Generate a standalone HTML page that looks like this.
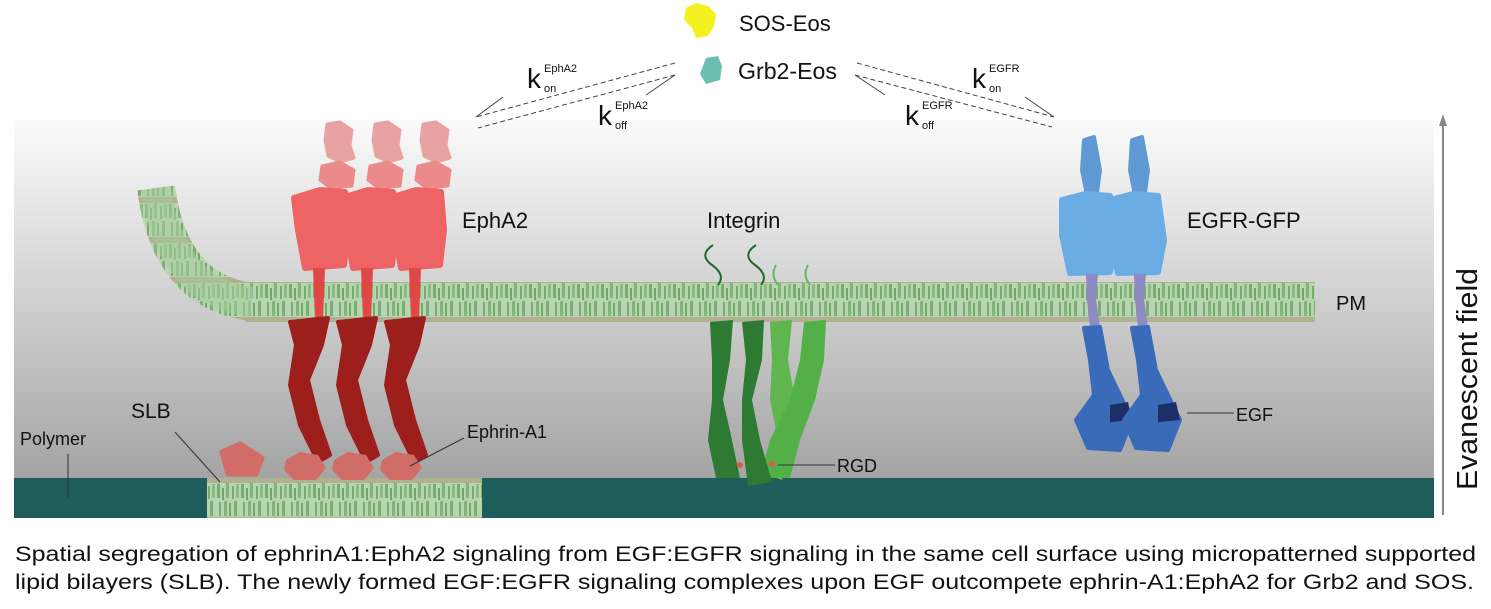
<!DOCTYPE html>
<html><head><meta charset="utf-8"><style>
html,body{margin:0;padding:0;background:#fff;}
svg{display:block;}
text{font-family:"Liberation Sans",sans-serif;fill:#111;}
</style></head><body>
<svg width="1491" height="609" viewBox="0 0 1491 609" xmlns="http://www.w3.org/2000/svg">
<defs>
<linearGradient id="bg" x1="0" y1="0" x2="0" y2="1">
<stop offset="0" stop-color="#fbfbfb"/><stop offset="0.45" stop-color="#d0d0d0"/><stop offset="1" stop-color="#9a9a9a"/>
</linearGradient>
<pattern id="mem" width="24" height="40" patternUnits="userSpaceOnUse">
<rect width="24" height="40" fill="#b9d4b2"/>
<rect x="1" y="4" width="3" height="14" fill="#5e9e55" opacity="0.7"/>
<rect x="6" y="8" width="2" height="12" fill="#3f8a3a" opacity="0.6"/>
<rect x="10" y="3" width="3" height="15" fill="#6aa960" opacity="0.7"/>
<rect x="16" y="6" width="2" height="13" fill="#4c9044" opacity="0.6"/>
<rect x="20" y="4" width="3" height="14" fill="#78b26e" opacity="0.7"/>
<rect x="3" y="22" width="2" height="14" fill="#4c9044" opacity="0.6"/>
<rect x="8" y="21" width="3" height="15" fill="#6aa960" opacity="0.7"/>
<rect x="13" y="23" width="2" height="13" fill="#3f8a3a" opacity="0.6"/>
<rect x="18" y="21" width="3" height="15" fill="#5e9e55" opacity="0.7"/>
<rect x="0" y="0" width="24" height="3" fill="#a89878" opacity="0.6"/>
<rect x="0" y="37" width="24" height="3" fill="#a89878" opacity="0.6"/>
</pattern>
</defs>
<rect x="14" y="120" width="1420" height="398" fill="url(#bg)"/>
<rect x="14" y="478" width="1420" height="40" fill="#1f5c5c"/>
<!-- SLB -->
<rect x="207" y="478" width="275" height="40" fill="url(#mem)"/>
<!-- PM -->
<rect x="245" y="282" width="1070" height="40" fill="url(#mem)"/>
<path d="M156 188 Q170 292 252 302" fill="none" stroke="url(#mem)" stroke-width="38"/>
<path d="M156 188 Q170 292 252 302" fill="none" stroke="#a8cc9f" stroke-width="30" opacity="0.55"/>

<!-- EphA2 x3 -->
<g stroke-linejoin="round">
<g id="eph">
<path d="M327 124 L340 122 L352 130 L350 145 L354 158 L340 162 L328 156 L325 140 Z" fill="#e8a2a2" stroke="#e8a2a2" stroke-width="3"/>
<path d="M322 166 L340 162 L354 170 L352 186 L330 188 L320 180 Z" fill="#ea8a8a" stroke="#ea8a8a" stroke-width="3"/>
<path d="M294 198 L320 190 L345 192 L348 230 L344 265 L305 268 L298 230 Z" fill="#ee6464" stroke="#ee6464" stroke-width="6"/>
<path d="M313 268 L325 268 L323 320 L315 320 Z" fill="#e04848"/>
<path d="M290 322 L328 318 L322 345 L308 380 L318 420 L330 455 L318 462 L300 425 L290 385 L296 345 Z" fill="#9c1f1c" stroke="#9c1f1c" stroke-width="4"/>
<path d="M286 460 L300 452 L318 455 L326 468 L316 480 L294 480 L284 470 Z" fill="#d16c66"/>
</g>
<use href="#eph" x="48"/>
<use href="#eph" x="96"/>
<path d="M222 452 L240 444 L262 458 L256 474 L228 474 Z" fill="#d16c66" stroke="#d16c66" stroke-width="5"/>
</g>

<!-- Integrin -->
<g fill="none" stroke-width="2">
<path d="M713 245 Q698 255 712 265 Q726 275 718 285" stroke="#1e6a2a"/>
<path d="M756 245 Q741 255 755 265 Q769 275 761 285" stroke="#1e6a2a"/>
<path d="M776 265 Q770 275 778 285" stroke="#5cc05a"/>
<path d="M808 265 Q802 275 810 285" stroke="#5cc05a"/>
</g>
<path d="M770 322 L792 320 L788 360 L795 400 L790 440 L782 480 L770 476 L778 440 L770 400 L772 360 Z" fill="#5fb64e"/>
<path d="M804 322 L826 320 L824 360 L815 400 L800 440 L790 478 L760 478 L770 440 L790 400 L800 360 Z" fill="#53b048"/>
<path d="M710 322 L733 320 L730 360 L723 400 L732 440 L740 478 L716 478 L708 440 L712 400 L712 360 Z" fill="#2d7a33"/>
<path d="M742 322 L764 320 L762 360 L752 400 L760 440 L772 482 L748 486 L742 440 L742 400 L746 360 Z" fill="#2d7a33"/>
<circle cx="740" cy="465" r="3" fill="#e05a44"/>
<circle cx="772" cy="464" r="3" fill="#e05a44"/>

<!-- EGFR -->
<g id="egfr" stroke-linejoin="round">
<path d="M1084 140 L1094 137 L1100 170 L1096 200 L1088 200 L1082 170 Z" fill="#5f9ad4" stroke="#5f9ad4" stroke-width="4"/>
<path d="M1062 200 L1085 194 L1110 196 L1116 240 L1110 272 L1070 273 L1062 235 Z" fill="#6aade4" stroke="#6aade4" stroke-width="6"/>
<path d="M1086 274 L1098 274 L1096 300 L1100 326 L1090 327 L1087 300 Z" fill="#8e8ac4"/>
<path d="M1084 328 L1100 327 L1108 370 L1120 395 L1132 420 L1120 450 L1088 448 L1076 420 L1094 395 L1090 360 Z" fill="#3a6bb8" stroke="#3a6bb8" stroke-width="4"/>
<path d="M1110 405 L1128 402 L1132 420 L1110 422 Z" fill="#1d2f66"/>
</g>
<use href="#egfr" x="48"/>

<!-- Lines / labels -->
<g stroke="#333" stroke-width="1">
<line x1="68" y1="454" x2="68" y2="498"/>
<line x1="175" y1="432" x2="220" y2="482"/>
<line x1="464" y1="438" x2="410" y2="466"/>
<line x1="778" y1="465" x2="835" y2="465"/>
<line x1="1187" y1="413" x2="1234" y2="413"/>
</g>
<g stroke="#444" stroke-width="1" fill="none">
<line x1="675" y1="63" x2="476" y2="117" stroke-dasharray="5,3"/>
<line x1="675" y1="75" x2="478" y2="128" stroke-dasharray="5,3"/>
<line x1="503" y1="97" x2="476" y2="117"/>
<line x1="675" y1="75" x2="646" y2="95"/>
<line x1="857" y1="63" x2="1054" y2="117" stroke-dasharray="5,3"/>
<line x1="855" y1="75" x2="1052" y2="127" stroke-dasharray="5,3"/>
<line x1="1025" y1="97" x2="1054" y2="117"/>
<line x1="855" y1="75" x2="885" y2="95"/>
</g>
<line x1="1443" y1="122" x2="1443" y2="515" stroke="#888" stroke-width="2"/>
<polygon points="1443,114 1439,126 1447,126" fill="#888"/>

<!-- SOS / Grb2 -->
<path d="M686 8 L696 3 L708 6 L716 14 L714 26 L708 36 L696 38 L692 28 L684 20 Z" fill="#f5f020"/>
<path d="M706 58 L718 56 L722 66 L720 80 L706 84 L700 74 Z" fill="#6cbfb0"/>

<text x="739" y="31" font-size="22">SOS-Eos</text>
<text x="738" y="79" font-size="23" textLength="99" lengthAdjust="spacingAndGlyphs">Grb2-Eos</text>
<text x="527" y="88" font-size="28">k</text><text x="544" y="72" font-size="11">EphA2</text><text x="544" y="92" font-size="11">on</text>
<text x="598" y="125" font-size="28">k</text><text x="615" y="109" font-size="11">EphA2</text><text x="615" y="129" font-size="11">off</text>
<text x="905" y="125" font-size="28">k</text><text x="922" y="109" font-size="11">EGFR</text><text x="922" y="129" font-size="11">off</text>
<text x="972" y="88" font-size="28">k</text><text x="989" y="72" font-size="11">EGFR</text><text x="989" y="92" font-size="11">on</text>

<text x="462" y="228" font-size="22">EphA2</text>
<text x="707" y="228" font-size="22">Integrin</text>
<text x="1187" y="228" font-size="22">EGFR-GFP</text>
<text x="1336" y="310" font-size="20">PM</text>
<text x="131" y="418" font-size="21">SLB</text>
<text x="20" y="445" font-size="18">Polymer</text>
<text x="467" y="438" font-size="18">Ephrin-A1</text>
<text x="837" y="472" font-size="18">RGD</text>
<text x="1236" y="421" font-size="18">EGF</text>
<text transform="translate(1477,490) rotate(-90)" font-size="29" textLength="222" lengthAdjust="spacingAndGlyphs">Evanescent field</text>

<text x="15" y="561" font-size="21" textLength="1461" lengthAdjust="spacingAndGlyphs">Spatial segregation of ephrinA1:EphA2 signaling from EGF:EGFR signaling in the same cell surface using micropatterned supported</text>
<text x="15" y="589" font-size="21" textLength="1459" lengthAdjust="spacingAndGlyphs">lipid bilayers (SLB). The newly formed EGF:EGFR signaling complexes upon EGF outcompete ephrin-A1:EphA2 for Grb2 and SOS.</text>
</svg>
</body></html>
